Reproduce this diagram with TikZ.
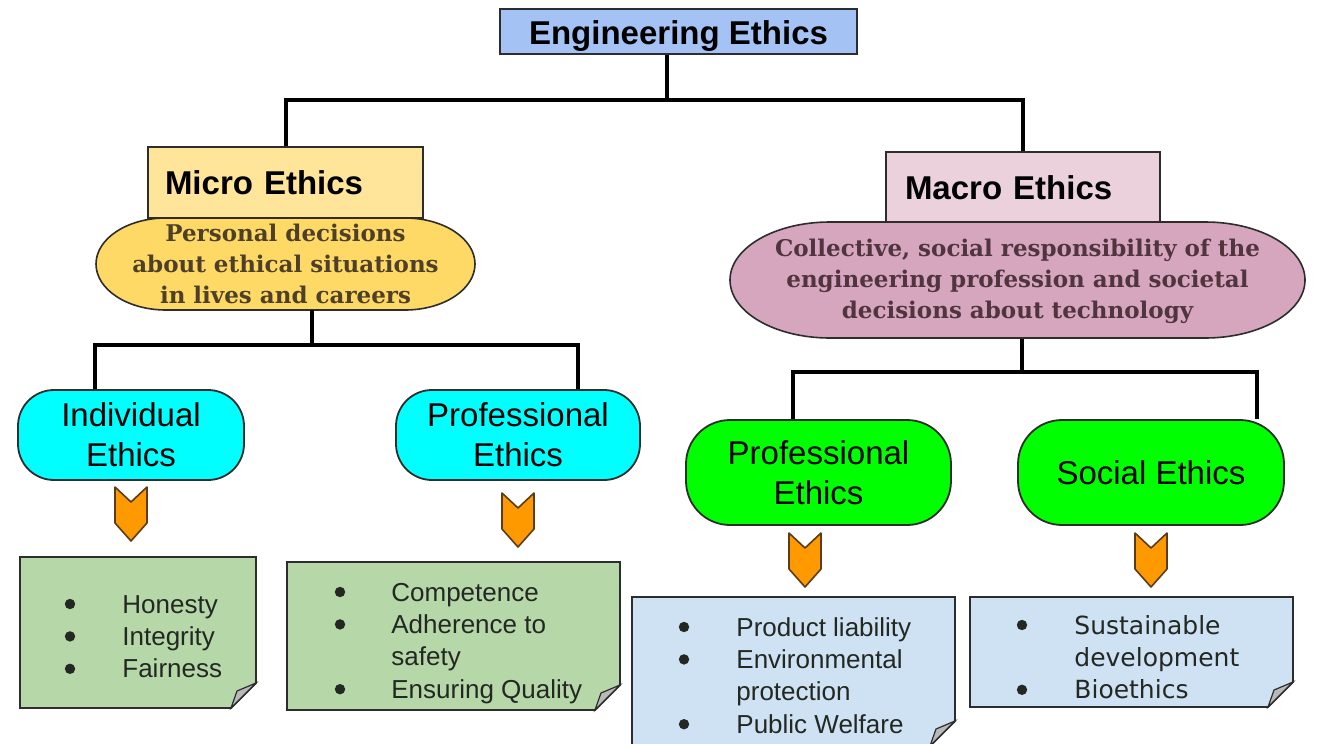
\documentclass[tikz,border=0pt]{standalone}
\usepackage{fontspec}
\setmainfont{Liberation Sans}
\newfontfamily\slabfont{DejaVu Serif}
\newfontfamily\verdfont{DejaVu Sans}
\usetikzlibrary{positioning,backgrounds}

\definecolor{edgegray}{RGB}{45,45,45}
\definecolor{titleblue}{RGB}{164,194,244}
\definecolor{microhead}{RGB}{255,229,153}
\definecolor{microfill}{RGB}{255,217,102}
\definecolor{microink}{RGB}{78,64,40}
\definecolor{macrohead}{RGB}{234,209,220}
\definecolor{macrofill}{RGB}{213,166,189}
\definecolor{macroink}{RGB}{80,52,62}
\definecolor{cyanbox}{RGB}{0,255,255}
\definecolor{greenbox}{RGB}{0,255,0}
\definecolor{notegreen}{RGB}{182,215,168}
\definecolor{noteblue}{RGB}{207,226,243}
\definecolor{noteink}{RGB}{35,40,35}
\definecolor{chevorange}{RGB}{255,153,0}
\definecolor{chevedge}{RGB}{90,60,25}
\definecolor{foldgray}{RGB}{185,185,185}

\tikzset{
  conn/.style={ line width=2pt, black }
}
\tikzset{
  titlebox/.style={ draw=edgegray, line width=0.8pt, fill=titleblue, minimum width=178.5pt,
    minimum height=22.5pt, inner sep=0pt, text height=13.3pt, text depth=0pt,
    font=\fontsize{16.5}{20}\selectfont\bfseries }
}
\tikzset{
  headbox/.style={ draw=edgegray, line width=0.8pt, minimum height=35.5pt, inner ysep=0pt,
    align=left, font=\fontsize{16.5}{20}\selectfont\bfseries }
}
\tikzset{
  ovalfill/.style={ draw=edgegray, line width=0.8pt }
}
\tikzset{
  ovaltext/.style={ inner sep=0pt, align=center, font=\slabfont\fontsize{11.5}{15.5}\selectfont\bfseries }
}
\tikzset{
  pillbox/.style={ draw=edgegray, line width=0.9pt, rounded corners=18pt, inner sep=0pt,
    align=center, font=\fontsize{16.5}{20}\selectfont }
}
\tikzset{
  notefill/.style={ draw=edgegray, line width=0.9pt }
}
\tikzset{
  foldfill/.style={ draw=edgegray, line width=0.6pt, fill=foldgray }
}
\tikzset{
  notetext/.style={ anchor=base west, inner sep=0pt, text=noteink, font=\fontsize{13}{16.2}\selectfont }
}
\tikzset{
  bulletdot/.style={ fill=noteink }
}
\tikzset{
  chevron/.pic={ \draw[fill=chevorange, draw=chevedge, line width=0.8pt, line join=round]
    (-16,0) -- (0,15) -- (16,0) -- (16,36) -- (0,54) -- (-16,36) -- cycle; }
}

% oval with elliptic ends: style, cx, cy, half width, half height, end radius
\newcommand\ovalshape[6]{%
  \draw[#1] (#2-#4+#6,#3-#5) -- (#2+#4-#6,#3-#5)
    arc[start angle=-90, end angle=90, x radius=#6, y radius=#5]
    -- (#2-#4+#6,#3+#5)
    arc[start angle=90, end angle=270, x radius=#6, y radius=#5] -- cycle;}
% note with folded corner: style, x1, y1, x2, y2
\newcommand\notebox[5]{%
  \draw[#1] (#2,#3) -- (#4,#3) -- (#4,#5-25) -- (#4-25,#5) -- (#2,#5) -- cycle;
  \draw[foldfill] (#4,#5-25) -- (#4-25,#5) -- (#4-19,#5-17) -- cycle;}

\begin{document}
\begin{tikzpicture}[x=0.5pt, y=-0.5pt]
  \useasboundingbox (0,0) rectangle (1317,744);

  \node[titlebox] (title) at (678.5,31.5) {Engineering Ethics};

  \node[headbox, fill=microhead, minimum width=137.5pt, inner xsep=8.5pt, text width=120.5pt] (microhead) at (285.5,182.5) {Micro Ethics};
  \node[headbox, fill=macrohead, minimum width=137pt, inner xsep=9.5pt, text width=118pt] (macrohead) at (1023,187.5) {Macro Ethics};

  \ovalshape{ovalfill, fill=microfill}{285.5}{264}{189.5}{46}{70}
  \node[ovaltext, text=microink, minimum width=189.5pt, minimum height=46pt] (microdesc) at (285.5,264) {Personal decisions\\about ethical situations\\in lives and careers};
  \ovalshape{ovalfill, fill=macrofill}{1017.5}{280}{287.5}{58}{100}
  \node[ovaltext, text=macroink, minimum width=287.5pt, minimum height=58pt] (macrodesc) at (1017.5,281) {Collective, social responsibility of the\\engineering profession and societal\\decisions about technology};

  \node[pillbox, fill=cyanbox, minimum width=113pt, minimum height=45pt] (indiv) at (131,435) {Individual\\Ethics};
  \node[pillbox, fill=cyanbox, minimum width=122pt, minimum height=45pt] (profmicro) at (518,435) {Professional\\Ethics};
  \node[pillbox, fill=greenbox, minimum width=132.5pt, minimum height=52.5pt, rounded corners=22pt] (profmacro) at (818.5,472.5) {Professional\\Ethics};
  \node[pillbox, fill=greenbox, minimum width=133pt, minimum height=52.5pt, rounded corners=22pt] (social) at (1151,472.5) {Social Ethics};

  % tree lines
  \coordinate (jtop) at (667,100);
  \draw[conn] ([xshift=-5.75pt]title.south) -- (jtop);
  \draw[conn] (microhead.north) |- (jtop) -| (macrohead.north);
  \coordinate (jmicro) at (312,345);
  \coordinate (lind) at (95,345);
  \coordinate (lprof) at (578,345);
  \draw[conn] (jmicro |- microdesc.south) -- (jmicro);
  \draw[conn] (lind |- indiv.north) -- (lind) -- (lprof) -- (lprof |- profmicro.north);
  \coordinate (jmacro) at (1022,372);
  \coordinate (lprofm) at (793,372);
  \coordinate (lsoc) at (1257,372);
  \draw[conn] (jmacro |- macrodesc.south) -- (jmacro);
  \draw[conn] (lprofm |- profmacro.north) -- (lprofm) -- (lsoc) -- (lsoc |- social.north);

  \pic at (131,487) {chevron};
  \pic at (518,493) {chevron};
  \pic at (805,533) {chevron};
  \pic at (1151,533) {chevron};

  % lists
  \notebox{notefill, fill=notegreen}{20}{557}{256}{708}
  \fill[bulletdot] (70,604) circle[radius=2.6pt] (70,636.4) circle[radius=2.6pt] (70,668.8) circle[radius=2.6pt];
  \node[notetext] (indivlist) at (122,613) {\begin{tabular}[t]{@{}l@{}}Honesty\\Integrity\\Fairness\end{tabular}};
  \notebox{notefill, fill=notegreen}{287}{562}{620}{710}
  \fill[bulletdot] (340,592) circle[radius=2.6pt] (340,624.4) circle[radius=2.6pt] (340,689.2) circle[radius=2.6pt];
  \node[notetext] (proflist) at (391,601) {\begin{tabular}[t]{@{}l@{}}Competence\\Adherence to\\safety\\Ensuring Quality\end{tabular}};
  \notebox{notefill, fill=noteblue}{632}{597}{955}{746}
  \fill[bulletdot] (684,627) circle[radius=2.6pt] (684,659.4) circle[radius=2.6pt] (684,724.2) circle[radius=2.6pt];
  \node[notetext] (macrolist) at (736,636) {\begin{tabular}[t]{@{}l@{}}Product liability\\Environmental\\protection\\Public Welfare\end{tabular}};
  \notebox{notefill, fill=noteblue}{970}{597}{1293}{707}
  \fill[bulletdot] (1022,625) circle[radius=2.6pt] (1022,689.8) circle[radius=2.6pt];
  \node[notetext, font=\verdfont\fontsize{12.5}{16.2}\selectfont] (sociallist) at (1074,634) {\begin{tabular}[t]{@{}l@{}}Sustainable\\development\\Bioethics\end{tabular}};
\end{tikzpicture}
\end{document}
